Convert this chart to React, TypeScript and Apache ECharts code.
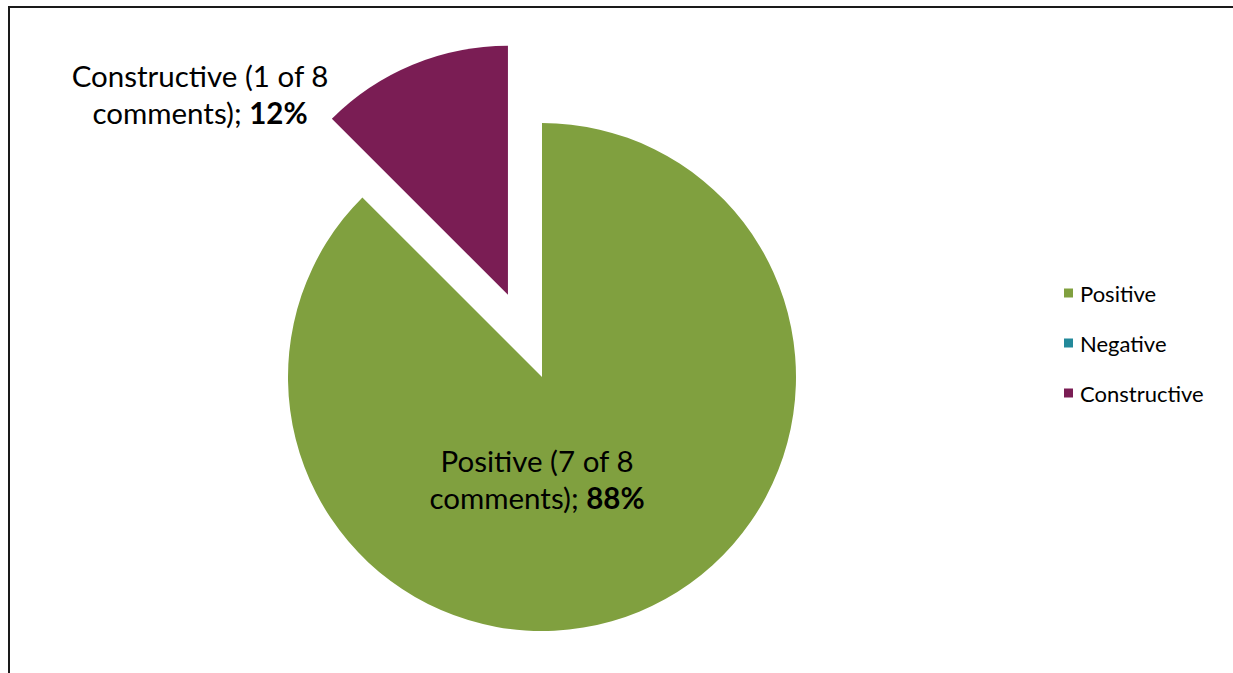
import React, { useEffect, useRef } from "react";
import * as echarts from "echarts";

const categories = ["Positive", "Negative", "Constructive"];
const counts = [7, 0, 1];
const totalComments = 8;
const percentLabels = ["88%", "0%", "12%"];
const colors = ["#80A03F", "#23899A", "#7A1D54"];
const explodedCategory = "Constructive";

export default function App() {
  const ref = useRef<HTMLDivElement>(null);
  useEffect(() => {
    if (!ref.current) return;
    const chart = echarts.init(ref.current, undefined, { renderer: "svg" });

    const center: [number, number] = [542, 377];
    const radius = 254;
    const explodedRadius = 249;
    const explodeDist = 89;
    // bisector angle of the exploded slice (clockwise from 12 o'clock)
    const total = counts.reduce((a, b) => a + b, 0);
    const exIdx = categories.indexOf(explodedCategory);
    const before = counts.slice(0, exIdx).reduce((a, b) => a + b, 0);
    const mid = ((before + counts[exIdx] / 2) / total) * Math.PI * 2;
    const exCenter: [number, number] = [
      center[0] + Math.sin(mid) * explodeDist,
      center[1] - Math.cos(mid) * explodeDist,
    ];

    const labelPos: Record<number, [number, number]> = {
      0: [537, 479],
      2: [200, 94],
    };

    const makeData = (exploded: boolean) =>
      categories.map((name, i) => {
        const visible = counts[i] > 0 && (name === explodedCategory) === exploded;
        return {
          name,
          value: counts[i],
          itemStyle: {
            color: visible ? colors[i] : "rgba(0,0,0,0)",
            borderWidth: 0,
          },
          label: {
            show: visible,
            formatter: `{n|${name} (${counts[i]} of ${totalComments}}\n{n|comments); }{b|${percentLabels[i]}}`,
          },
          labelLine: { show: false },
        };
      });

    const baseSeries = {
      type: "pie",
      startAngle: 90,
      clockwise: true,
      avoidLabelOverlap: false,
      selectedMode: false,
      emphasis: { disabled: true },
      label: {
        position: "inside",
        fontFamily: "Lato",
        color: "#000000",
        rich: {
          n: { fontFamily: "Lato", fontSize: 29.5, lineHeight: 37, color: "#000000" },
          b: { fontFamily: "Lato", fontSize: 29.5, lineHeight: 37, fontWeight: "bold", color: "#000000" },
        },
      },
      labelLayout: (params: any) => {
        const p = labelPos[params.dataIndex];
        if (!p) return {};
        return { x: p[0], y: p[1], align: "center", verticalAlign: "middle" };
      },
    };

    chart.setOption({
      animation: false,
      backgroundColor: "#ffffff",
      graphic: [
        {
          type: "rect",
          shape: { x: 9, y: 7, width: 1300, height: 720 },
          style: { fill: "none", stroke: "#1a1a1a", lineWidth: 2 },
          silent: true,
        },
      ],
      legend: {
        orient: "vertical",
        left: 1059,
        top: 277,
        icon: "rect",
        itemWidth: 9,
        itemHeight: 9,
        itemGap: 28,
        selectedMode: false,
        textStyle: {
          fontFamily: "Lato",
          fontSize: 22,
          lineHeight: 22,
          color: "#000000",
          padding: [0, 0, 0, 2],
        },
        data: categories.map((name, i) => ({ name, itemStyle: { color: colors[i] } })),
      },
      series: [
        { ...baseSeries, name: "main", center, radius, data: makeData(false) },
        { ...baseSeries, name: "exploded", center: exCenter, radius: explodedRadius, data: makeData(true) },
      ],
    });
    return () => chart.dispose();
  }, []);
  return (
    <div
      ref={ref}
      style={{ position: "fixed", left: 0, top: 0, width: 1233, height: 673 }}
    />
  );
}
